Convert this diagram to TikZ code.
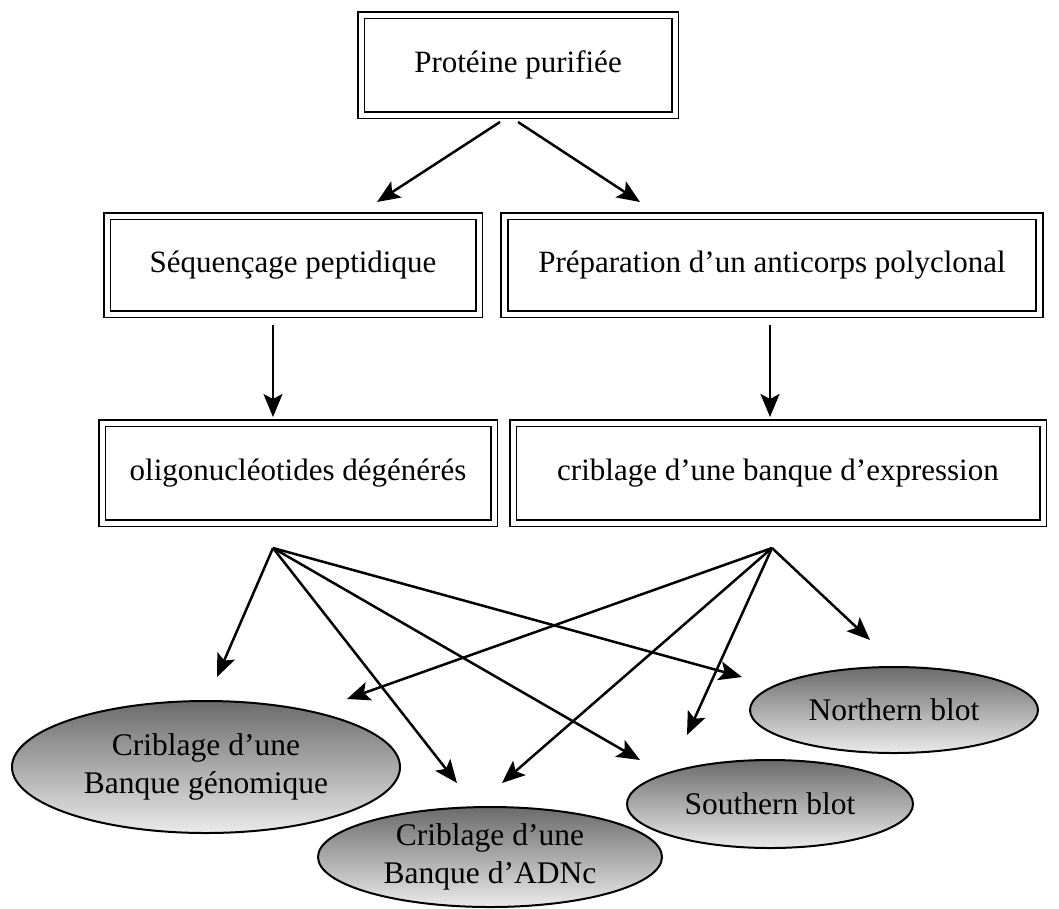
\documentclass[tikz,border=0pt]{standalone}
\usepackage{fontspec}
\setmainfont{Liberation Serif}
\usetikzlibrary{shapes.geometric,arrows.meta}
\begin{document}
\begin{tikzpicture}[x=1pt,y=-1pt,
  box/.style={draw, double, double distance=5pt, line width=1.6pt, inner sep=0pt, font=\fontsize{31}{37}\selectfont},
  oval/.style={ellipse, draw, line width=2pt, top color=black!58, bottom color=black!8, inner sep=0pt, align=center, font=\fontsize{31.5}{38}\selectfont},
  arr/.style={line width=2.5pt, -{Stealth[length=23pt,width=19pt,inset=5pt]}}
]
\useasboundingbox (0,0) rectangle (1059,908);

% boxes
\node[box, minimum width=314pt, minimum height=100pt] (p) at (518,65) {Protéine purifiée};
\node[box, minimum width=372pt, minimum height=98pt] (seq) at (293,265) {Séquençage peptidique};
\node[box, minimum width=535pt, minimum height=98pt] (prep) at (772,265) {Préparation d’un anticorps polyclonal};
\node[box, minimum width=392pt, minimum height=100pt] (oligo) at (298,473) {oligonucléotides dégénérés};
\node[box, minimum width=530pt, minimum height=100pt] (crib) at (778,473) {criblage d’une banque d’expression};

% ellipses
\node[oval, minimum width=344pt, minimum height=100pt] (adnc) at (490,857) {Criblage d’une\\Banque d’ADNc};
\node[oval, minimum width=388pt, minimum height=132pt] (gen) at (206,767) {Criblage d’une\\Banque génomique};
\node[oval, minimum width=286pt, minimum height=88pt] (south) at (770,804) {Southern blot};
\node[oval, minimum width=288pt, minimum height=86pt] (north) at (894,710) {Northern blot};

% connector end points
\coordinate (p1) at (500,122);
\coordinate (p2) at (518,122);
\coordinate (t1) at (377,202);
\coordinate (t2) at (640,202);
\coordinate (d1) at (273,325);
\coordinate (d1t) at (273,417);
\coordinate (d2) at (770,325);
\coordinate (d2t) at (770,417);
\coordinate (ls) at (273,548);
\coordinate (rs) at (772,548);
\coordinate (lgen) at (217,677);
\coordinate (ladn) at (457,783);
\coordinate (lsou) at (640,760);
\coordinate (lnor) at (742,677);
\coordinate (rgen) at (347,699);
\coordinate (radn) at (502,783);
\coordinate (rsou) at (687,735);
\coordinate (rnor) at (870,640);

\draw[arr] (p1) -- (t1);
\draw[arr] (p2) -- (t2);
\draw[arr] (d1) -- (d1t);
\draw[arr] (d2) -- (d2t);
\draw[arr] (ls) -- (lgen);
\draw[arr] (ls) -- (ladn);
\draw[arr] (ls) -- (lsou);
\draw[arr] (ls) -- (lnor);
\draw[arr] (rs) -- (rgen);
\draw[arr] (rs) -- (radn);
\draw[arr] (rs) -- (rsou);
\draw[arr] (rs) -- (rnor);
\end{tikzpicture}
\end{document}
